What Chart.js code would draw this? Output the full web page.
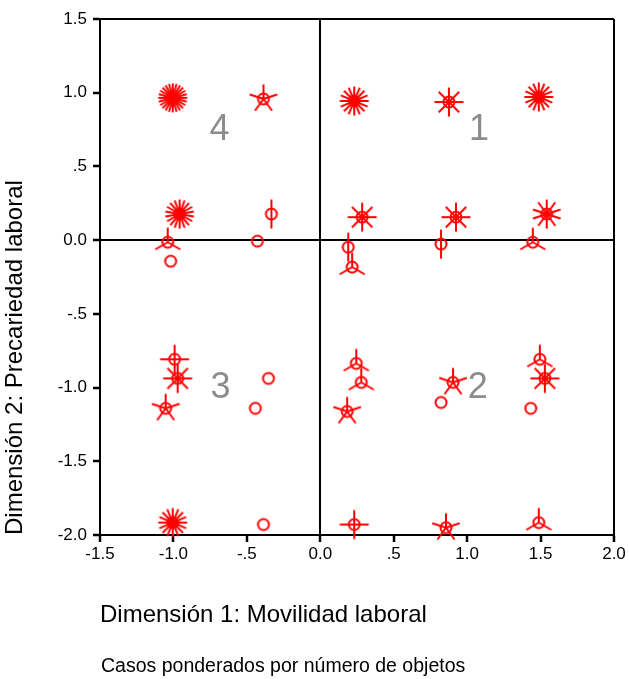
<!DOCTYPE html>
<html>
<head>
<meta charset="utf-8">
<script src="https://cdn.jsdelivr.net/npm/chart.js@4.4.1/dist/chart.umd.min.js"></script>
<style>
  body { margin: 0; background: #fff; }
</style>
</head>
<body>
<canvas id="sunflower" width="629" height="679"></canvas>
<script>
// object scores (dimension 1, dimension 2) and number of cases at each position
const dim1 = [-1.005, -0.387, -0.958, -0.333, -1.039, -1.019, -0.428,
              0.231, 0.876, 1.488, 0.285, 0.924, 1.542, 0.190, 0.217, 0.822, 1.447,
              -0.992, -0.971, -1.053, -0.353, -0.442, -1.005, -0.387,
              0.245, 0.279, 0.183, 0.904, 0.822, 1.495, 1.529, 1.433, 0.231, 0.856, 1.488];
const dim2 = [0.965, 0.958, 0.177, 0.177, -0.014, -0.143, -0.007,
              0.944, 0.937, 0.971, 0.156, 0.156, 0.177, -0.048, -0.183, -0.027, -0.014,
              -0.808, -0.938, -1.141, -0.938, -1.141, -1.916, -1.929,
              -0.836, -0.965, -1.162, -0.965, -1.101, -0.808, -0.938, -1.141, -1.929, -1.950, -1.916];
const cases = [24, 5, 18, 2, 3, 1, 1,
               16, 8, 16, 8, 8, 10, 2, 3, 2, 3,
               4, 8, 5, 1, 1, 16, 1,
               3, 3, 5, 5, 1, 3, 8, 1, 4, 5, 3];

const xTickLabels = ['-1.5', '-1.0', '-.5', '0.0', '.5', '1.0', '1.5', '2.0'];
const yTickLabels = ['-2.0', '-1.5', '-1.0', '-.5', '0.0', '.5', '1.0', '1.5'];

// quadrant labels
const quadText = ['4', '1', '3', '2'];
const quadX = [-0.686, 1.08, -0.68, 1.073];
const quadY = [0.747, 0.747, -1.005, -1.005];

// sunflower glyph: circle plus one petal per case
function makeFlower(n) {
    let c = document.createElement('canvas');
    c.width = 36;
    c.height = 36;
    let g = c.getContext('2d');
    g.strokeStyle = '#ff0000';
    g.lineWidth = 2;
    if (n > 1) {
        for (let k = 0; k < n; k++) {
            let a = -Math.PI / 2 + k * 2 * Math.PI / n;
            g.beginPath();
            g.moveTo(18, 18);
            g.lineTo(18 + 14.5 * Math.cos(a), 18 + 14.5 * Math.sin(a));
            g.stroke();
        }
    }
    g.beginPath();
    g.arc(18, 18, 5.5, 0, 2 * Math.PI);
    g.stroke();
    return c;
}

let flowers = {};
cases.forEach(n => { if (!flowers[n]) flowers[n] = makeFlower(n); });

const isEdge = (v, list) => list.some(t => Math.abs(v - t) < 1e-6);

const extras = {
    id: 'extras',
    beforeDatasetsDraw(chart) {
        const {ctx, scales: {x, y}} = chart;
        ctx.save();
        ctx.font = '36px "Liberation Sans", Arial, sans-serif';
        ctx.fillStyle = '#8c8c8c';
        ctx.textAlign = 'center';
        ctx.textBaseline = 'middle';
        quadText.forEach((t, i) => {
            ctx.fillText(t, x.getPixelForValue(quadX[i]), y.getPixelForValue(quadY[i]));
        });
        ctx.restore();
    },
    afterDraw(chart) {
        const {ctx, chartArea} = chart;
        ctx.save();
        ctx.font = '19.5px "Liberation Sans", Arial, sans-serif';
        ctx.fillStyle = '#000';
        ctx.textAlign = 'left';
        ctx.textBaseline = 'alphabetic';
        ctx.fillText('Casos ponderados por número de objetos', chartArea.left + 1, 672);
        ctx.restore();
    }
};

new Chart(document.getElementById('sunflower').getContext('2d'), {
    type: 'scatter',
    data: {
        datasets: [{
            data: dim1.map((v, i) => ({x: v, y: dim2[i]})),
            pointStyle: c => flowers[cases[c.dataIndex]],
            pointRadius: 5,
            clip: false
        }]
    },
    options: {
        responsive: false,
        animation: false,
        layout: {
            padding: {top: 19, right: 15, left: 0, bottom: 0}
        },
        plugins: {
            legend: {display: false},
            tooltip: {enabled: false}
        },
        scales: {
            x: {
                type: 'linear',
                min: -1.5,
                max: 2,
                afterFit: s => { s.height = 144; },
                ticks: {
                    stepSize: 0.5,
                    padding: 2,
                    color: '#000',
                    font: {family: '"Liberation Sans", Arial, sans-serif', size: 17},
                    callback: (v, i) => xTickLabels[i]
                },
                grid: {
                    color: c => isEdge(c.tick.value, [-1.5, 0, 2]) ? '#000' : 'rgba(0,0,0,0)',
                    lineWidth: 2,
                    tickColor: '#000',
                    tickWidth: 2.5,
                    tickLength: 7
                },
                border: {display: true, color: '#000', width: 2},
                title: {
                    display: true,
                    text: 'Dimensión 1: Movilidad laboral',
                    align: 'start',
                    color: '#000',
                    font: {family: '"Liberation Sans", Arial, sans-serif', size: 24, weight: 'normal'},
                    padding: {top: 0, bottom: 49}
                }
            },
            y: {
                type: 'linear',
                min: -2,
                max: 1.5,
                afterFit: s => { s.width = 100; },
                ticks: {
                    stepSize: 0.5,
                    padding: 6,
                    color: '#000',
                    font: {family: '"Liberation Sans", Arial, sans-serif', size: 17},
                    callback: (v, i) => yTickLabels[i]
                },
                grid: {
                    color: c => isEdge(c.tick.value, [-2, 0, 1.5]) ? '#000' : 'rgba(0,0,0,0)',
                    lineWidth: 2,
                    tickColor: '#000',
                    tickWidth: 2.5,
                    tickLength: 7
                },
                border: {display: true, color: '#000', width: 2},
                title: {
                    display: true,
                    text: 'Dimensión 2: Precariedad laboral',
                    align: 'start',
                    color: '#000',
                    font: {family: '"Liberation Sans", Arial, sans-serif', size: 24, weight: 'normal'},
                    padding: {top: 1, bottom: 0}
                }
            }
        }
    },
    plugins: [extras]
});
</script>
</body>
</html>
